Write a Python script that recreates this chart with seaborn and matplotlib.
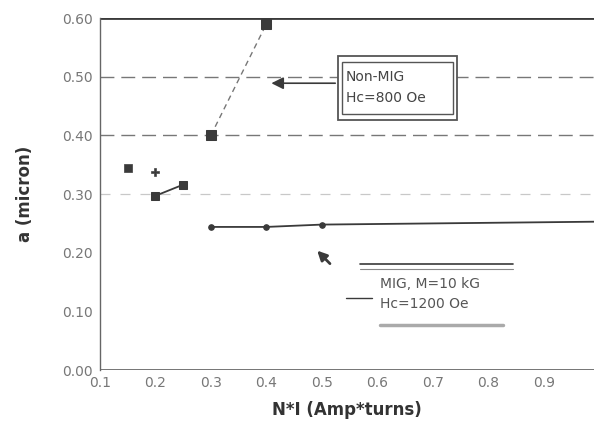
import matplotlib
matplotlib.use("Agg")
import matplotlib.pyplot as plt
import pandas as pd
import seaborn as sns
from matplotlib.patches import Rectangle

# Non-MIG head (dashed, squares)
nonmig_x = [0.3, 0.4]
nonmig_y = [0.40, 0.59]

# short segment at low N*I
low_x = [0.2, 0.25]
low_y = [0.297, 0.316]

# isolated points
single_sq_x = [0.15]
single_sq_y = [0.345]
plus_x = [0.2]
plus_y = [0.337]

# MIG head (solid, small dots)
mig_x = [0.3, 0.4, 0.5]
mig_y = [0.244, 0.244, 0.248]
mig_tail_x = [0.5, 1.0]
mig_tail_y = [0.248, 0.253]

y_ticks = [0.0, 0.1, 0.2, 0.3, 0.4, 0.5, 0.6]
x_ticks = [0.1, 0.2, 0.3, 0.4, 0.5, 0.6, 0.7, 0.8, 0.9]

INK = "#3a3a3a"
GRAY = "#6a6a6a"


def main() -> None:
    sns.set_style("white")
    fig = plt.figure(figsize=(5.94, 4.21), dpi=100)
    ax = fig.add_axes([0.168, 0.121, 0.832, 0.836])

    # horizontal reference lines
    ax.axhline(0.6, color=INK, lw=2.0, zorder=1)
    ax.axhline(0.0, color=GRAY, lw=1.3, zorder=1)
    for yv in [0.5, 0.4]:
        ax.axhline(yv, color="#777777", lw=1.0, ls=(0, (10, 5)), zorder=1)
    ax.axhline(0.3, color="#c8c8c8", lw=0.9, ls=(0, (8, 8)), zorder=1)

    df_non = pd.DataFrame({"x": nonmig_x, "y": nonmig_y})
    sns.lineplot(data=df_non, x="x", y="y", ax=ax, color="#777777", lw=1.0,
                 linestyle=(0, (4, 3)), marker="s", markersize=6.5,
                 markerfacecolor=INK, markeredgecolor=INK)

    df_low = pd.DataFrame({"x": low_x, "y": low_y})
    sns.lineplot(data=df_low, x="x", y="y", ax=ax, color=INK, lw=1.3,
                 marker="s", markersize=6, markerfacecolor=INK, markeredgecolor=INK)

    sns.scatterplot(x=single_sq_x, y=single_sq_y, ax=ax, marker="s", s=36,
                    color=INK, edgecolor=INK)
    sns.scatterplot(x=plus_x, y=plus_y, ax=ax, marker="P", s=30,
                    color=INK, edgecolor=INK)

    df_tail = pd.DataFrame({"x": mig_tail_x, "y": mig_tail_y})
    sns.lineplot(data=df_tail, x="x", y="y", ax=ax, color=INK, lw=1.3)
    df_mig = pd.DataFrame({"x": mig_x, "y": mig_y})
    sns.lineplot(data=df_mig, x="x", y="y", ax=ax, color=INK, lw=1.3,
                 marker="o", markersize=4, markerfacecolor=INK, markeredgecolor=INK)

    # Non-MIG label: double-bordered box with arrow
    ax.add_patch(Rectangle((0.529, 0.427), 0.214, 0.108, fill=True, fc="white",
                           ec="#555555", lw=1.3, zorder=4))
    ax.add_patch(Rectangle((0.536, 0.436), 0.200, 0.090, fill=False,
                           ec="#555555", lw=1.0, zorder=4))
    ax.annotate("", xy=(0.404, 0.489), xytext=(0.529, 0.489),
                arrowprops=dict(arrowstyle="-|>", color=INK, lw=1.2,
                                mutation_scale=18), zorder=5)
    ax.text(0.543, 0.500, "Non-MIG", fontsize=10, color="#444444",
            va="center", ha="left", zorder=5)
    ax.text(0.543, 0.463, "Hc=800 Oe", fontsize=10, color="#444444",
            va="center", ha="left", zorder=5)

    # MIG label
    ax.text(0.604, 0.147, "MIG, M=10 kG", fontsize=10, color="#555555",
            va="center", ha="left")
    ax.text(0.604, 0.112, "Hc=1200 Oe", fontsize=10, color="#555555",
            va="center", ha="left")
    ax.plot([0.568, 0.845], [0.180, 0.180], color=INK, lw=1.2)
    ax.plot([0.568, 0.845], [0.172, 0.172], color="#888888", lw=0.8)
    ax.plot([0.604, 0.826], [0.077, 0.077], color="#aaaaaa", lw=2.5)
    ax.plot([0.544, 0.591], [0.123, 0.123], color=INK, lw=1.0)
    ax.annotate("", xy=(0.488, 0.207), xytext=(0.518, 0.178),
                arrowprops=dict(arrowstyle="-|>", color=INK, lw=2.0,
                                mutation_scale=14))

    ax.set_xlim(0.1, 0.99)
    ax.set_ylim(0.0, 0.6)
    ax.set_xticks(x_ticks)
    ax.set_xticklabels([f"{v:.1f}" for v in x_ticks])
    ax.set_yticks(y_ticks)
    ax.set_yticklabels([f"{v:.2f}" for v in y_ticks])
    ax.tick_params(axis="both", labelsize=10, colors="#777777", length=3,
                   direction="out", width=0.8)
    ax.tick_params(axis="x", length=0, pad=4)
    ax.tick_params(axis="y", pad=2)

    for side in ["top", "right", "bottom"]:
        ax.spines[side].set_visible(False)
    ax.spines["left"].set_color("#666666")
    ax.spines["left"].set_linewidth(1.0)

    ax.set_xlabel("N*I (Amp*turns)", fontsize=12, fontweight="bold", color="#333333",
                  labelpad=8)
    ax.set_ylabel("a (micron)", fontsize=12, fontweight="bold", color="#333333",
                  labelpad=20)

    fig.savefig("out.png", dpi=100)
    plt.close(fig)


if __name__ == "__main__":
    main()
